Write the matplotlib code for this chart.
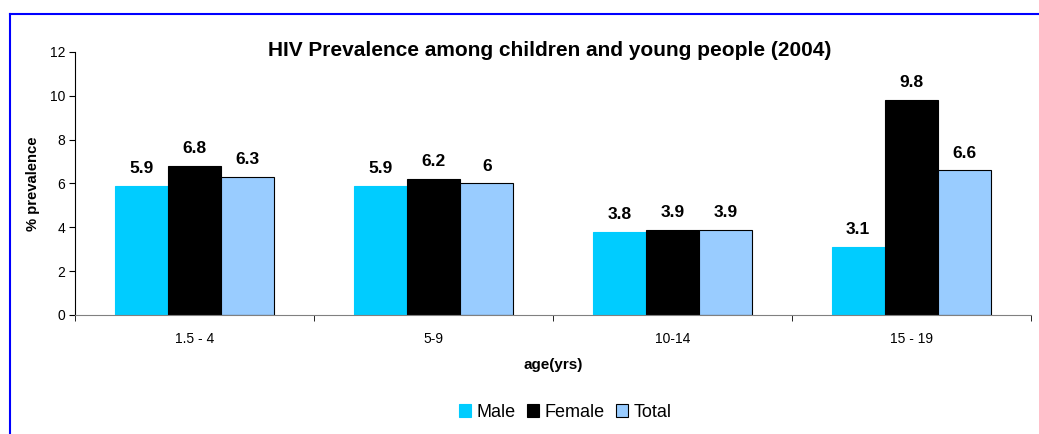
import matplotlib.pyplot as plt
import numpy as np
from matplotlib.lines import Line2D

plt.rcParams['font.family'] = ['Liberation Sans', 'DejaVu Sans']

ages = ['1.5 - 4', '5-9', '10-14', '15 - 19']
male = [5.9, 5.9, 3.8, 3.1]
female = [6.8, 6.2, 3.9, 9.8]
total = [6.3, 6, 3.9, 6.6]
labels_male = ['5.9', '5.9', '3.8', '3.1']
labels_female = ['6.8', '6.2', '3.9', '9.8']
labels_total = ['6.3', '6', '3.9', '6.6']

fig = plt.figure(figsize=(10.39, 4.34), dpi=100)
ax = fig.add_axes([0.0722, 0.2742, 0.9201, 0.606])

x = np.arange(len(ages))
w = 0.223
series = [
    (male, labels_male, '#00CCFF', 'Male', -w),
    (female, labels_female, '#000000', 'Female', 0),
    (total, labels_total, '#99CCFF', 'Total', w),
]
for vals, labs, col, name, off in series:
    bars = ax.bar(x + off, vals, w, color=col, edgecolor='#000000' if name != 'Male' else col,
                  linewidth=0.8, label=name)
    for b, t in zip(bars, labs):
        ax.annotate(t, (b.get_x() + b.get_width() / 2, b.get_height()),
                    xytext=(0, 7), textcoords='offset points', ha='center', va='bottom',
                    fontsize=12.5, fontweight='bold')

ax.set_xlim(-0.5, 3.5)
ax.set_ylim(0, 12)
ax.set_yticks(range(0, 13, 2))
ax.set_xticks(x)
ax.set_xticklabels(ages, fontsize=10)
ax.set_xticks(np.arange(-0.5, 4, 1), minor=True)
ax.tick_params(axis='x', which='major', length=0, pad=12)
ax.tick_params(axis='x', which='minor', length=4, direction='out')
ax.tick_params(axis='y', labelsize=10, length=4, direction='out', pad=3)
for s in ['top', 'right']:
    ax.spines[s].set_visible(False)
ax.spines['bottom'].set_color('#808080')
ax.spines['left'].set_color('#000000')

ax.set_title('HIV Prevalence among children and young people (2004)',
             fontsize=15, fontweight='bold', pad=0, x=0.497, y=0.985)
ax.set_ylabel('% prevalence', fontsize=10.7, fontweight='bold', labelpad=7)
ax.set_xlabel('age(yrs)', fontsize=11, fontweight='bold', labelpad=9)

leg = fig.legend(loc='center', bbox_to_anchor=(0.544, 0.05), ncol=3, frameon=False,
                 fontsize=13, handlelength=0.7, handleheight=0.7, handletextpad=0.3,
                 columnspacing=0.6)

fig.add_artist(Line2D([0.0096, 0.0096], [0, 0.968], color='#0000FF', lw=1.5,
                      transform=fig.transFigure))
fig.add_artist(Line2D([0.0096, 1], [0.968, 0.968], color='#0000FF', lw=1.5,
                      transform=fig.transFigure))

fig.savefig('out.png', dpi=100)
